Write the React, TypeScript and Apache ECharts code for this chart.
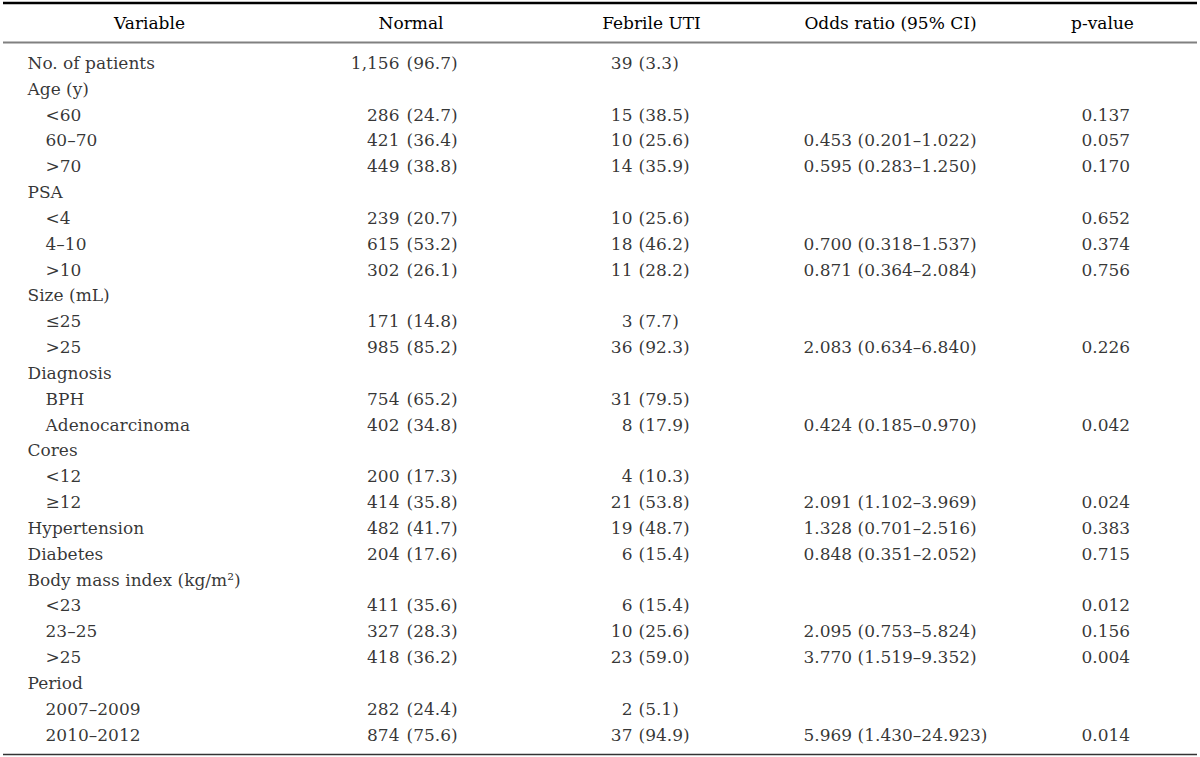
import React, { useEffect, useRef } from "react";
import * as echarts from "echarts";

const headers = ["Variable", "Normal", "Febrile UTI", "Odds ratio (95% CI)", "p-value"];

const variables = [
  "No. of patients", "Age (y)", "<60", "60–70", ">70",
  "PSA", "<4", "4–10", ">10",
  "Size (mL)", "≤25", ">25",
  "Diagnosis", "BPH", "Adenocarcinoma",
  "Cores", "<12", "≥12",
  "Hypertension", "Diabetes",
  "Body mass index (kg/m²)", "<23", "23–25", ">25",
  "Period", "2007–2009", "2010–2012",
];
const indentLevel = [0, 0, 1, 1, 1, 0, 1, 1, 1, 0, 1, 1, 0, 1, 1, 0, 1, 1, 0, 0, 0, 1, 1, 1, 0, 1, 1];

const normalCount = ["1,156", null, "286", "421", "449", null, "239", "615", "302", null, "171", "985", null, "754", "402", null, "200", "414", "482", "204", null, "411", "327", "418", null, "282", "874"];
const normalPct = ["96.7", null, "24.7", "36.4", "38.8", null, "20.7", "53.2", "26.1", null, "14.8", "85.2", null, "65.2", "34.8", null, "17.3", "35.8", "41.7", "17.6", null, "35.6", "28.3", "36.2", null, "24.4", "75.6"];
const febrileCount = ["39", null, "15", "10", "14", null, "10", "18", "11", null, "3", "36", null, "31", "8", null, "4", "21", "19", "6", null, "6", "10", "23", null, "2", "37"];
const febrilePct = ["3.3", null, "38.5", "25.6", "35.9", null, "25.6", "46.2", "28.2", null, "7.7", "92.3", null, "79.5", "17.9", null, "10.3", "53.8", "48.7", "15.4", null, "15.4", "25.6", "59.0", null, "5.1", "94.9"];
const oddsRatio = [null, null, null, "0.453 (0.201–1.022)", "0.595 (0.283–1.250)", null, null, "0.700 (0.318–1.537)", "0.871 (0.364–2.084)", null, null, "2.083 (0.634–6.840)", null, null, "0.424 (0.185–0.970)", null, null, "2.091 (1.102–3.969)", "1.328 (0.701–2.516)", "0.848 (0.351–2.052)", null, null, "2.095 (0.753–5.824)", "3.770 (1.519–9.352)", null, null, "5.969 (1.430–24.923)"];
const pValue = [null, null, "0.137", "0.057", "0.170", null, "0.652", "0.374", "0.756", null, null, "0.226", null, null, "0.042", null, null, "0.024", "0.383", "0.715", null, "0.012", "0.156", "0.004", null, null, "0.014"];

const W = 1200;
const H = 757;
const FONT = "DejaVu Serif";
const FS = 17;
const TEXT = "#000000";

export default function App() {
  const ref = useRef<HTMLDivElement>(null);
  useEffect(() => {
    if (!ref.current) return;
    document.body.style.margin = "0";
    const chart = echarts.init(ref.current, null, { renderer: "svg", width: W, height: H });

    const nRows = variables.length;
    const rowH = 25.83;
    const firstY = 63;
    const top = firstY - rowH / 2;
    const bottom = H - top - rowH * nRows;

    const mk = (
      name: string,
      texts: (string | null)[],
      xOf: (i: number) => number,
      side: "left" | "right",
      wrap?: (s: string) => string
    ) => ({
      name,
      type: "scatter",
      symbolSize: 1,
      itemStyle: { color: "rgba(0,0,0,0)" },
      silent: true,
      data: texts
        .map((t, i) => (t == null ? null : { name: wrap ? wrap(t) : t, value: [xOf(i), i] }))
        .filter((d) => d !== null),
      label: {
        show: true,
        position: side,
        distance: 0,
        formatter: "{b}",
        color: TEXT,
        fontFamily: FONT,
        fontSize: FS,
      },
    });

    const headerX = [149.5, 411, 651.5, 890.5, 1102.5];

    chart.setOption({
      animation: false,
      grid: { left: 0, right: 0, top, bottom },
      xAxis: { type: "value", min: 0, max: W, show: false },
      yAxis: { type: "value", min: -0.5, max: nRows - 0.5, inverse: true, show: false },
      series: [
        mk("variable", variables, (i) => (indentLevel[i] ? 45 : 27), "right"),
        mk("normalCount", normalCount, () => 400, "left"),
        mk("normalPct", normalPct, () => 406, "right", (s) => `(${s})`),
        mk("febrileCount", febrileCount, () => 633, "left"),
        mk("febrilePct", febrilePct, () => 638, "right", (s) => `(${s})`),
        mk("oddsRatio", oddsRatio, () => 803, "right"),
        mk("pValue", pValue, () => 1081, "right"),
      ],
      graphic: [
        { type: "line", shape: { x1: 3, y1: 3, x2: 1197, y2: 3 }, style: { stroke: "#000", lineWidth: 2.5 } },
        { type: "line", shape: { x1: 3, y1: 42.5, x2: 1197, y2: 42.5 }, style: { stroke: "#808080", lineWidth: 2 } },
        { type: "line", shape: { x1: 3, y1: 754.5, x2: 1197, y2: 754.5 }, style: { stroke: "#333", lineWidth: 1.5 } },
        ...headers.map((h, k) => ({
          type: "text",
          x: headerX[k],
          y: 22.5,
          style: {
            text: h,
            fill: TEXT,
            font: `${FS}px "${FONT}"`,
            align: "center",
            verticalAlign: "middle",
          },
        })),
      ],
    });
    return () => chart.dispose();
  }, []);
  return <div ref={ref} style={{ position: "absolute", left: 0, top: 0, width: W, height: H, background: "#fff" }} />;
}
